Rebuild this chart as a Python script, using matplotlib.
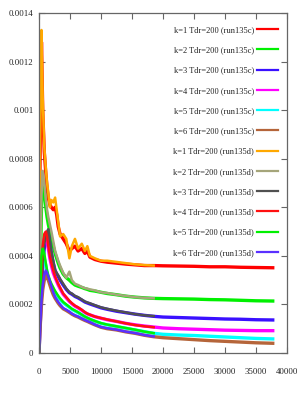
import matplotlib
matplotlib.use("Agg")
import matplotlib.pyplot as plt
import numpy as np

# ---- data (values in units of 1e-4) ----
t_d = [0, 150, 400, 600, 850, 1100, 1300, 1500, 1750, 2000, 2300, 2600, 2850, 3100, 3400,
       3900, 4400, 4900, 5300, 5800, 6300, 6900, 7400, 7800, 8200, 9000, 10000, 11000,
       12500, 14000, 15500, 17000, 18500]
t_c = t_d + [20000, 22500, 25000, 27500, 30000, 32500, 35000, 37700]

k1_d = [0, 8.0, 13.3, 10.5, 8.5, 7.6, 7.0, 6.6, 6.0, 6.3, 6.2, 6.4, 5.9, 5.4, 4.8,
        4.9, 4.7, 3.9, 4.4, 4.7, 4.3, 4.5, 4.2, 4.4, 4.0, 3.9, 3.8, 3.8,
        3.75, 3.7, 3.65, 3.62, 3.6]
k1_c = [0, 7.5, 12.8, 10.0, 8.3, 7.4, 6.8, 6.4, 6.1, 6.0, 5.9, 6.0, 5.7, 5.2, 4.9,
        4.7, 4.5, 4.2, 4.3, 4.4, 4.2, 4.3, 4.1, 4.2, 3.95, 3.85, 3.78, 3.74,
        3.7, 3.66, 3.63, 3.6, 3.6, 3.59, 3.58, 3.57, 3.55, 3.55, 3.53, 3.52, 3.51]

k2_d = [0, 3.0, 6.5, 7.5, 7.0, 6.3, 5.9, 5.6, 5.3, 5.0, 4.6, 4.2, 4.0, 3.8, 3.6,
        3.3, 3.1, 3.35, 3.0, 2.85, 2.8, 2.72, 2.67, 2.65, 2.62, 2.58, 2.5, 2.47,
        2.4, 2.35, 2.3, 2.27, 2.25]
k2_c = [0, 2.6, 6.0, 7.1, 6.7, 6.0, 5.6, 5.3, 5.0, 4.7, 4.4, 4.1, 3.9, 3.7, 3.5,
        3.25, 3.1, 3.0, 2.9, 2.8, 2.75, 2.7, 2.65, 2.62, 2.58, 2.55, 2.5, 2.45,
        2.4, 2.34, 2.3, 2.27, 2.25, 2.24, 2.23, 2.22, 2.2, 2.19, 2.17, 2.15, 2.14]

k3_d = [0, 1.0, 2.6, 3.8, 4.5, 4.8, 5.0, 5.1, 4.6, 4.2, 3.8, 3.4, 3.3, 3.2, 3.05,
        2.85, 2.65, 2.5, 2.45, 2.35, 2.3, 2.2, 2.12, 2.08, 2.05, 1.97, 1.88, 1.82,
        1.74, 1.67, 1.6, 1.55, 1.52]
k3_c = [0, 0.9, 2.4, 3.6, 4.3, 4.6, 4.8, 4.9, 4.5, 4.1, 3.7, 3.4, 3.25, 3.15, 3.0,
        2.8, 2.62, 2.48, 2.42, 2.33, 2.27, 2.18, 2.1, 2.06, 2.02, 1.95, 1.86, 1.8,
        1.72, 1.66, 1.6, 1.55, 1.51, 1.48, 1.46, 1.44, 1.42, 1.4, 1.39, 1.37, 1.36]

k4_d = [0, 1.5, 3.4, 4.4, 4.9, 5.0, 4.8, 4.4, 4.0, 3.7, 3.4, 3.15, 3.0, 2.85, 2.7,
        2.45, 2.3, 2.15, 2.05, 1.95, 1.88, 1.78, 1.68, 1.62, 1.58, 1.5, 1.44, 1.38,
        1.3, 1.22, 1.15, 1.1, 1.06]
k4_c = [0, 1.4, 3.2, 4.2, 4.7, 4.8, 4.6, 4.3, 3.9, 3.6, 3.3, 3.1, 2.95, 2.8, 2.65,
        2.42, 2.27, 2.12, 2.03, 1.93, 1.86, 1.76, 1.67, 1.61, 1.57, 1.5, 1.43, 1.37,
        1.3, 1.22, 1.16, 1.11, 1.07, 1.03, 1.0, 0.98, 0.96, 0.94, 0.93, 0.92, 0.92]

k5_d = [0, 2.0, 4.0, 4.3, 4.1, 3.7, 3.4, 3.2, 3.0, 2.85, 2.7, 2.55, 2.45, 2.35, 2.25,
        2.1, 2.0, 1.9, 1.82, 1.75, 1.68, 1.58, 1.5, 1.45, 1.4, 1.32, 1.23, 1.17,
        1.1, 1.03, 0.96, 0.88, 0.82]
k5_c = [0, 1.8, 3.8, 4.1, 3.9, 3.6, 3.3, 3.1, 2.9, 2.75, 2.62, 2.5, 2.4, 2.3, 2.2,
        2.07, 1.97, 1.88, 1.8, 1.73, 1.66, 1.57, 1.49, 1.44, 1.39, 1.31, 1.22, 1.16,
        1.09, 1.02, 0.95, 0.88, 0.81, 0.77, 0.74, 0.72, 0.69, 0.66, 0.63, 0.6, 0.58]

k6_d = [0, 1.0, 2.2, 2.8, 3.2, 3.4, 3.3, 3.15, 2.95, 2.75, 2.5, 2.3, 2.2, 2.1, 2.0,
        1.85, 1.78, 1.7, 1.62, 1.55, 1.5, 1.42, 1.36, 1.31, 1.27, 1.17, 1.07, 1.02,
        0.96, 0.88, 0.82, 0.74, 0.68]
k6_c = [0, 0.9, 2.0, 2.6, 3.0, 3.2, 3.1, 3.0, 2.8, 2.6, 2.4, 2.25, 2.15, 2.05, 1.95,
        1.82, 1.75, 1.67, 1.6, 1.53, 1.48, 1.4, 1.34, 1.3, 1.25, 1.16, 1.06, 1.0,
        0.95, 0.87, 0.81, 0.73, 0.67, 0.63, 0.59, 0.55, 0.51, 0.48, 0.45, 0.42, 0.40]

labels_c = ["k=%d Tdr=200 (run135c)" % k for k in range(1, 7)]
labels_d = ["k=%d Tdr=200 (run135d)" % k for k in range(1, 7)]
colors_c = ["#ff0000", "#00f000", "#3a10ff", "#ff00ff", "#00ffff", "#b5653a"]
colors_d = ["#ffa800", "#a5a57a", "#505050", "#ff1010", "#00f000", "#5a30ff"]

series_c = [k1_c, k2_c, k3_c, k4_c, k5_c, k6_c]
series_d = [k1_d, k2_d, k3_d, k4_d, k5_d, k6_d]

xticks = [0, 5000, 10000, 15000, 20000, 25000, 30000, 35000, 40000]
xticklabels = ["0", "5000", "10000", "15000", "20000", "25000", "30000", "35000", "40000"]
yticks = [0, 0.0002, 0.0004, 0.0006, 0.0008, 0.001, 0.0012, 0.0014]
yticklabels = ["0", "0.0002", "0.0004", "0.0006", "0.0008", "0.001", "0.0012", "0.0014"]

# ---- plot ----
plt.rcParams['font.family'] = ['Liberation Serif', 'DejaVu Serif']
W, H = 299, 393
fig = plt.figure(figsize=(W / 100, H / 100), dpi=100)
ax = fig.add_axes([39 / W, (H - 353) / H, (287 - 39) / W, (353 - 13) / H])

lw = 2.4
for vals, col, lab in zip(series_c, colors_c, labels_c):
    ax.plot(t_c, np.array(vals) * 1e-4, color=col, lw=lw, label=lab)
for vals, col, lab in zip(series_d, colors_d, labels_d):
    ax.plot(t_d, np.array(vals) * 1e-4, color=col, lw=lw - 0.6, label=lab)

ax.set_xlim(0, 40000)
ax.set_ylim(0, 0.0014)
ax.set_xticks(xticks)
ax.set_xticklabels(xticklabels)
ax.set_yticks(yticks)
ax.set_yticklabels(yticklabels)

fc = "#666666"
for s in ax.spines.values():
    s.set_color(fc)
    s.set_linewidth(0.9)
ax.tick_params(direction='in', length=4, width=0.8, color=fc,
               top=True, right=True, labelsize=6.3, labelcolor="#222222")
ax.tick_params(axis='x', pad=11)
ax.tick_params(axis='y', pad=4)

leg = ax.legend(loc='upper right', bbox_to_anchor=((278 - 39) / 248, (353 - 26) / 340),
                frameon=False, fontsize=6, markerfirst=False, handlelength=2.5,
                handletextpad=0.4, labelspacing=1.47, borderpad=0, borderaxespad=0)
for txt in leg.get_texts():
    txt.set_color("#222222")
for h in leg.get_lines():
    h.set_linewidth(1.6)

fig.savefig("out.png", dpi=100, facecolor="white")
